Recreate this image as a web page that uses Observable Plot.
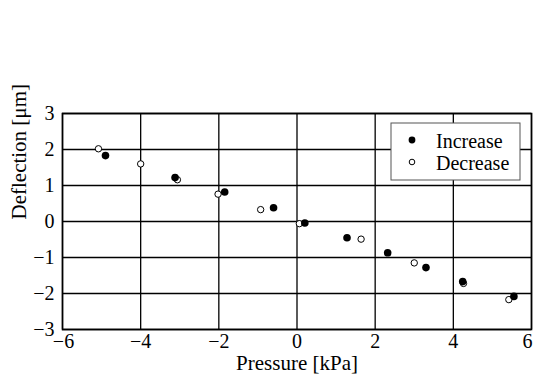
<!DOCTYPE html>
<html><head><meta charset="utf-8">
<script src="https://cdn.jsdelivr.net/npm/d3@7"></script>
<script src="https://cdn.jsdelivr.net/npm/@observablehq/plot@0.6"></script>
<style>
body{margin:0;background:#fff;}
#chart{position:relative;width:533px;height:374px;}
#chart svg, #chart svg text{font-family:"Liberation Serif","Times New Roman",Times,serif !important;}
</style></head>
<body><div id="chart"></div>
<script>
const incP = [-4.9, -3.12, -1.85, -0.6, 0.2, 1.28, 2.32, 3.3, 4.24, 5.55];
const incD = [1.83, 1.22, 0.82, 0.38, -0.04, -0.45, -0.87, -1.28, -1.67, -2.08];
const decP = [-5.08, -4.0, -3.06, -2.02, -0.93, 0.06, 1.64, 3.0, 4.26, 5.42];
const decD = [2.02, 1.6, 1.16, 0.76, 0.33, -0.06, -0.49, -1.15, -1.72, -2.17];
const xTicks = [-6, -4, -2, 0, 2, 4, 6];
const yTicks = [-3, -2, -1, 0, 1, 2, 3];
const seriesNames = ["Increase", "Decrease"];

const inc = incP.map((p, i) => ({p, d: incD[i]}));
const dec = decP.map((p, i) => ({p, d: decD[i]}));
const fmt = v => (v < 0 ? "\u2212" : "") + Math.abs(v);
const xMin = d3.min(xTicks), xMax = d3.max(xTicks);
const tickOpts = {x: d => d, frameAnchor: "bottom", lineAnchor: "top", dy: 4, text: fmt, fontSize: 20};

const plot = Plot.plot({
  width: 533, height: 374,
  marginLeft: 62, marginRight: 2, marginTop: 113, marginBottom: 45,
  style: {fontSize: "20px", color: "#000", background: "#fff", overflow: "visible"},
  x: {domain: [xMin, xMax], label: null, axis: null},
  y: {domain: [-3, 3], label: null, axis: null},
  marks: [
    Plot.gridX(xTicks, {stroke: "#000", strokeOpacity: 1, strokeWidth: 1.3}),
    Plot.gridY(yTicks, {stroke: "#000", strokeOpacity: 1, strokeWidth: 1.3}),
    Plot.frame({stroke: "#000", strokeWidth: 1.6}),
    Plot.text(xTicks.filter(d => d !== xMin && d !== xMax), tickOpts),
    Plot.text([xMin], {...tickOpts, dx: 1}),
    Plot.text([xMax], {...tickOpts, dx: -4}),
    Plot.text(yTicks, {y: d => d, frameAnchor: "left", dx: -8, textAnchor: "end", text: fmt, fontSize: 20}),
    Plot.dot(dec, {x: "p", y: "d", r: 3.2, stroke: "#000", strokeWidth: 1, fill: "#fff"}),
    Plot.dot(inc, {x: "p", y: "d", r: 3.8, fill: "#000", stroke: "none"}),
    Plot.text(["Pressure [kPa]"], {frameAnchor: "bottom", lineAnchor: "top", dy: 26, fontSize: 21}),
    Plot.text(["Deflection [μm]"], {frameAnchor: "left", dx: -43, dy: -2, rotate: -90, fontSize: 21})
  ]
});
document.getElementById("chart").appendChild(plot);

// legend
const svg = d3.select(plot);
const g = svg.append("g").attr("font-size", 20).attr("text-anchor", "start");
g.append("rect").attr("x", 391).attr("y", 123).attr("width", 129).attr("height", 57)
  .attr("fill", "#fff").attr("stroke", "#555").attr("stroke-width", 1);
seriesNames.forEach((name, i) => {
  const cy = 140 + i * 22;
  if (i === 0) g.append("circle").attr("cx", 412).attr("cy", cy).attr("r", 3.4).attr("fill", "#000");
  else g.append("circle").attr("cx", 412).attr("cy", cy).attr("r", 2.8).attr("fill", "#fff").attr("stroke", "#000").attr("stroke-width", 1);
  g.append("text").attr("x", 436).attr("y", cy + 7.5).text(name);
});
</script></body></html>
